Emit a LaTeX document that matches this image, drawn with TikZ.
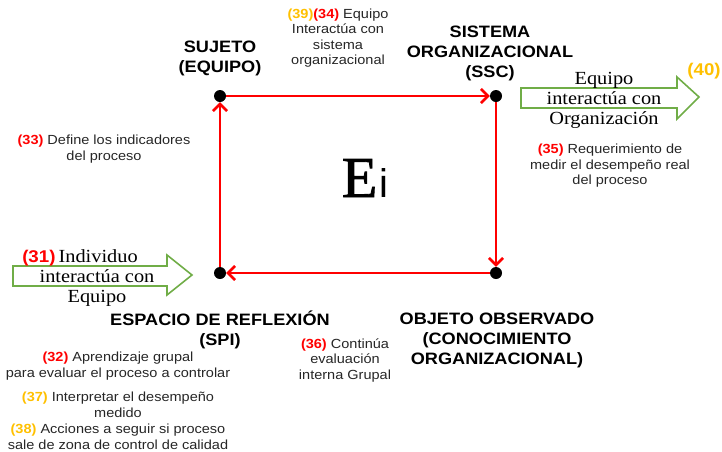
\documentclass[tikz,border=0pt]{standalone}
\usepackage{fontspec}
\setmainfont{Liberation Sans}[FakeStretch=1.1]
\newfontfamily\serifarrow{Liberation Serif}[FakeStretch=1.1]
\newfontfamily\serifbig{Liberation Serif}[FakeBold=1.5]
\newfontfamily\sansplain{Liberation Sans}
\usetikzlibrary{arrows.meta,shapes.arrows}
\definecolor{rojo}{RGB}{255,0,0}
\definecolor{naranja}{RGB}{255,192,0}
\definecolor{verde}{RGB}{112,173,71}
\definecolor{gristxt}{RGB}{38,38,38}
\begin{document}
\begin{tikzpicture}[x=1pt,y=-1pt,
  dotnode/.style={circle,fill=black,inner sep=0pt,minimum size=12pt},
  flow/.style={draw=rojo,line width=2.9pt,-{Straight Barb[length=7pt,width=14pt,line width=2.6pt]}},
  biglabel/.style={font=\fontsize{16.5}{20}\selectfont\bfseries,align=center,text=black,inner sep=0pt},
  small/.style={font=\fontsize{13.2}{15.5}\selectfont,align=center,text=gristxt,inner sep=0pt},
  greenarrow/.style={draw=verde,line width=1.6pt,fill=white},
  arrowtxt/.style={font=\fontsize{18.5}{20}\selectfont\serifarrow,align=center,text=black,inner sep=0pt}
]
\useasboundingbox (0,0) rectangle (722,451);
% corner dots
\node[dotnode] (suj) at (220,96) {};
\node[dotnode] (ssc) at (496,96) {};
\node[dotnode] (obj) at (496,273) {};
\node[dotnode] (spi) at (220,273) {};
% cycle arrows
\draw[flow] (spi) -- (suj);
\draw[flow] (suj) -- (ssc);
\draw[flow] (ssc) -- (obj);
\draw[flow] (obj) -- (spi);
% center Ei
\node[inner sep=0pt,anchor=base] (ei) at (365,197) {\fontsize{58}{58}\selectfont\serifbig E\kern2pt\fontsize{40}{40}\selectfont\sansplain i};
% green arrows
\draw[greenarrow] (13,266) -- (167,266) -- (167,255) -- (192,275) -- (167,295) -- (167,286) -- (13,286) -- cycle;
\draw[greenarrow] (521,88) -- (677,88) -- (677,77) -- (699,97) -- (677,119) -- (677,108) -- (521,108) -- cycle;
\node[arrowtxt] (t31) at (97,278) {{\fontsize{17}{20}\selectfont\rmfamily\bfseries\color{rojo}(31)}\,Individuo\hspace*{34pt}\\interactúa con\\Equipo};
\node[arrowtxt] (t40) at (604,100) {Equipo\\interactúa con\\Organización};
\node[font=\fontsize{17}{20}\selectfont\bfseries,text=naranja,inner sep=0pt] (n40) at (704,71) {(40)};
% main labels
\node[biglabel] (lsuj) at (220,58) {SUJETO\\(EQUIPO)};
\node[biglabel] (lssc) at (490,53) {SISTEMA\\ORGANIZACIONAL\\(SSC)};
\node[biglabel] (lspi) at (220,330) {ESPACIO DE REFLEXIÓN\\(SPI)};
\node[biglabel] (lobj) at (497,340) {OBJETO OBSERVADO\\(CONOCIMIENTO\\ORGANIZACIONAL)};
% small labels
\node[small] (s39) at (338,38) {{\bfseries\color{naranja}(39)}{\bfseries\color{rojo}(34)} Equipo\\Interactúa con\\sistema\\organizacional};
\node[small] (s33) at (104,149) {{\bfseries\color{rojo}(33)} Define los indicadores\\del proceso};
\node[small] (s35) at (610,166) {{\bfseries\color{rojo}(35)} Requerimiento de\\medir el desempeño real\\del proceso};
\node[small] (s36) at (345,360) {{\bfseries\color{rojo}(36)} Continúa\\evaluación\\interna Grupal};
\node[small] (s32) at (118,366) {{\bfseries\color{rojo}(32)} Aprendizaje grupal\\para evaluar el proceso a controlar};
\node[small] (s37) at (118,405) {{\bfseries\color{naranja}(37)} Interpretar el desempeño\\medido};
\node[small] (s38) at (118,437) {{\bfseries\color{naranja}(38)} Acciones a seguir si proceso\\sale de zona de control de calidad};
\end{tikzpicture}
\end{document}
